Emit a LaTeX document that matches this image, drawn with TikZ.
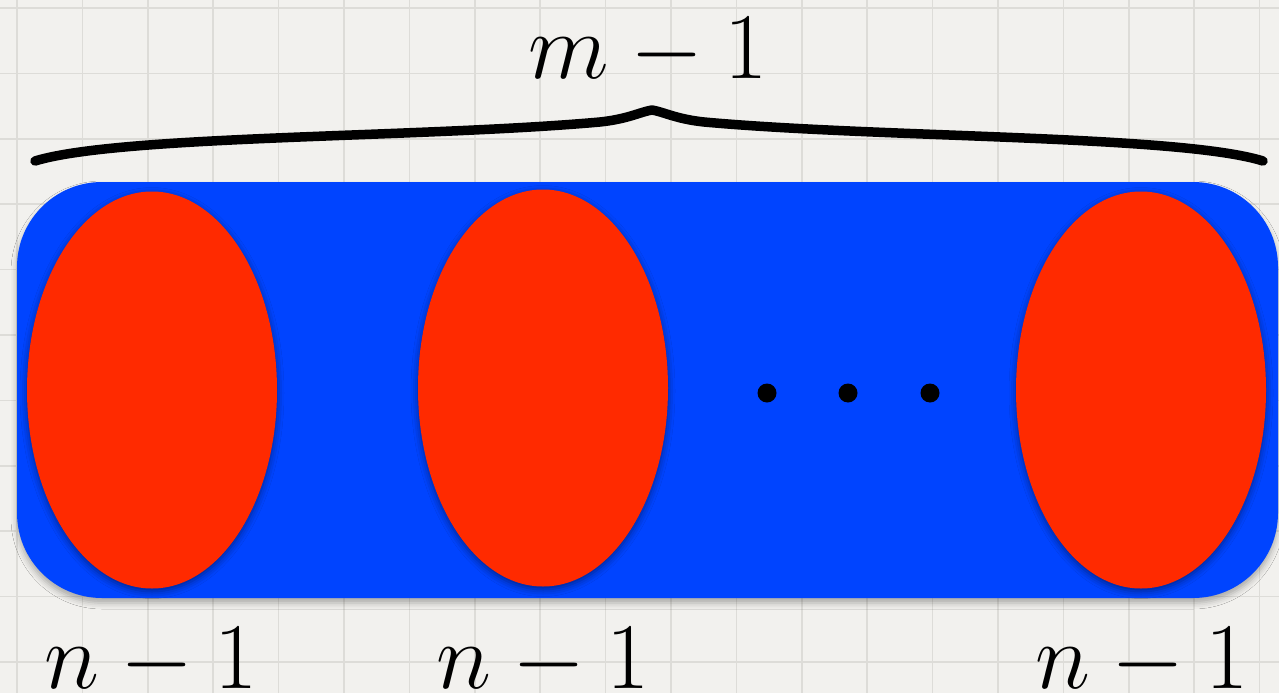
\documentclass[tikz,border=0pt]{standalone}
\usepackage{graphicx}
\usetikzlibrary{shapes.geometric,shadows.blur}
\definecolor{paper}{HTML}{F2F1EE}
\definecolor{gridc}{HTML}{DDDCD8}
\definecolor{boxblue}{HTML}{0044FF}
\definecolor{ovalred}{HTML}{FF2A00}
\newcommand{\biglbl}[1]{\scalebox{3.78}{\fontsize{24.88}{30}\selectfont #1}}
\tikzset{
  setbox/.style={draw=none, fill=boxblue, rounded corners=85pt, minimum width=1261pt, minimum height=416pt, inner sep=0pt,
    blur shadow={shadow xshift=0pt, shadow yshift=-5pt, shadow blur radius=6pt, shadow opacity=30}},
  oval/.style={ellipse, draw=none, fill=ovalred, minimum width=250pt, minimum height=397pt, inner sep=0pt,
    blur shadow={shadow xshift=0pt, shadow yshift=-3pt, shadow blur radius=7pt, shadow opacity=45}},
  dotc/.style={circle, fill=black, minimum size=19pt, inner sep=0pt},
  lbl/.style={anchor=base, inner sep=0pt},
  bracestroke/.style={line width=9.5pt, line cap=round, line join=round}
}
\begin{document}
\begin{tikzpicture}[x=1pt,y=-1pt]
\useasboundingbox (0,0) rectangle (1279,693);
\fill[paper] (0,0) rectangle (1279,693);
\foreach \i in {0,...,19} {
  \draw[gridc, line width=1.6pt] ({17+65.4*\i},0) -- ({17+65.4*\i},693);
}
\foreach \j in {0,...,10} {
  \draw[gridc, line width=1.6pt] (0,{8+65.4*\j}) -- (1279,{8+65.4*\j});
}
\node[setbox] (box) at (647.5,390) {};
\node[oval] (o1) at (152,390) {};
\node[oval] (o2) at (543,388) {};
\node[oval] (o3) at (1141,390) {};
\node[dotc] (d1) at (767,393) {};
\node[dotc] (d2) at (848,393) {};
\node[dotc] (d3) at (930,393) {};
\coordinate (bl) at (35,161);
\coordinate (bt) at (652,110);
\coordinate (br) at (1263,161);
\draw[bracestroke] (bl) .. controls (120,135) and (420,138) .. (600,122) .. controls (628,119) and (640,112) .. (bt)
  .. controls (664,112) and (676,119) .. (704,122) .. controls (880,138) and (1180,135) .. (br);
\node[lbl] (top) at (648,78) {\biglbl{$m-1$}};
\node[lbl] (n1) at (151,688) {\biglbl{$n-1$}};
\node[lbl] (n2) at (543,688) {\biglbl{$n-1$}};
\node[lbl] (n3) at (1142,688) {\biglbl{$n-1$}};
\end{tikzpicture}
\end{document}
